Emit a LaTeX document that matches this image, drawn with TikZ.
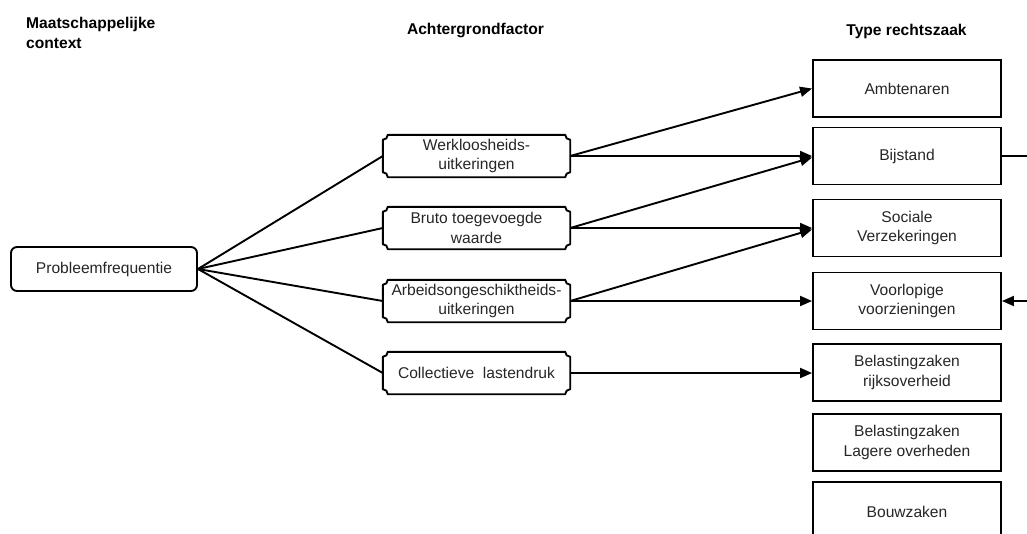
\documentclass[tikz,border=0pt]{standalone}
\usepackage{fontspec}
\setmainfont{Liberation Sans}
\usetikzlibrary{arrows.meta,calc}
\begin{document}
\begin{tikzpicture}[x=1pt,y=1pt,
  txt/.style={font=\fontsize{15.6}{19.5}\selectfont, text=black!85},
  head/.style={font=\fontsize{15.6}{20}\selectfont\bfseries, text=black, inner sep=0pt},
  ctxbox/.style={txt, draw=black, line width=1.9pt, rounded corners=6pt, minimum width=186pt, minimum height=44pt, inner sep=0pt},
  plaque/.style={txt, align=center, minimum width=187pt, minimum height=42pt, inner sep=0pt},
  typebox/.style={txt, draw=black, line width=1.9pt, align=center, minimum width=188pt, minimum height=57pt, inner sep=0pt},
  conn/.style={line width=1.9pt, draw=black},
  arr/.style={conn, -{Triangle[length=12pt,width=10pt]}}
]
\useasboundingbox (0,0) rectangle (1027,-533);

% headings
\node[head, anchor=west, align=left] (hctx) at (26,-33) {Maatschappelijke\\context};
\node[head] (hach) at (475.5,-30) {Achtergrondfactor};
\node[head] (htype) at (906.5,-31) {Type rechtszaak};

% left node
\node[ctxbox] (pf) at (104,-269) {Probleemfrequentie};

% middle nodes
\node[plaque] (w) at (476.5,-156) {Werkloosheids-\\uitkeringen};
\node[plaque] (b) at (476.5,-228) {Bruto toegevoegde\\waarde};
\node[plaque] (a) at (476.5,-301) {Arbeidsongeschiktheids-\\uitkeringen};
\node[plaque] (c) at (476.5,-373) {Collectieve\ \ lastendruk};

\foreach \n in {w,b,a,c}{
  \draw[line width=1.9pt, line join=round]
    ([xshift=5pt]\n.north west) -- ([xshift=-5pt]\n.north east)
    arc[start angle=180, end angle=270, radius=5pt]
    -- ([yshift=5pt]\n.south east)
    arc[start angle=90, end angle=180, radius=5pt]
    -- ([xshift=5pt]\n.south west)
    arc[start angle=0, end angle=90, radius=5pt]
    -- ([yshift=-5pt]\n.north west)
    arc[start angle=270, end angle=360, radius=5pt] -- cycle;
}

% right nodes
\node[typebox] (amb) at (907,-88.5) {Ambtenaren};
\node[typebox] (bij) at (907,-156) {Bijstand};
\node[typebox] (soc) at (907,-228) {Sociale\\Verzekeringen};
\node[typebox] (vrl) at (907,-301) {Voorlopige\\voorzieningen};
\node[typebox] (brk) at (907,-372.5) {Belastingzaken\\rijksoverheid};
\node[typebox] (blo) at (907,-442.5) {Belastingzaken\\Lagere overheden};
\node[typebox, minimum height=60pt] (bou) at (907,-512) {Bouwzaken};

% connectors from context
\foreach \n in {w,b,a,c}{
  \draw[conn] (pf.east) -- (\n.west);
}

% arrows to types
\draw[arr] (w.east) -- (amb.west);
\draw[arr] (w.east) -- (bij.west);
\draw[arr] (b.east) -- ([yshift=-1.5pt]bij.west);
\draw[arr] (b.east) -- (soc.west);
\draw[arr] (a.east) -- ([yshift=-1.5pt]soc.west);
\draw[arr] (a.east) -- (vrl.west);
\draw[arr] (c.east) -- ([yshift=-0.5pt]brk.west);

% off-picture loop
\coordinate (outA) at (1030,-156);
\coordinate (outB) at (1030,-301);
\draw[conn] (bij.east) -- (outA);
\draw[arr] (outB) -- (vrl.east);
\end{tikzpicture}
\end{document}
